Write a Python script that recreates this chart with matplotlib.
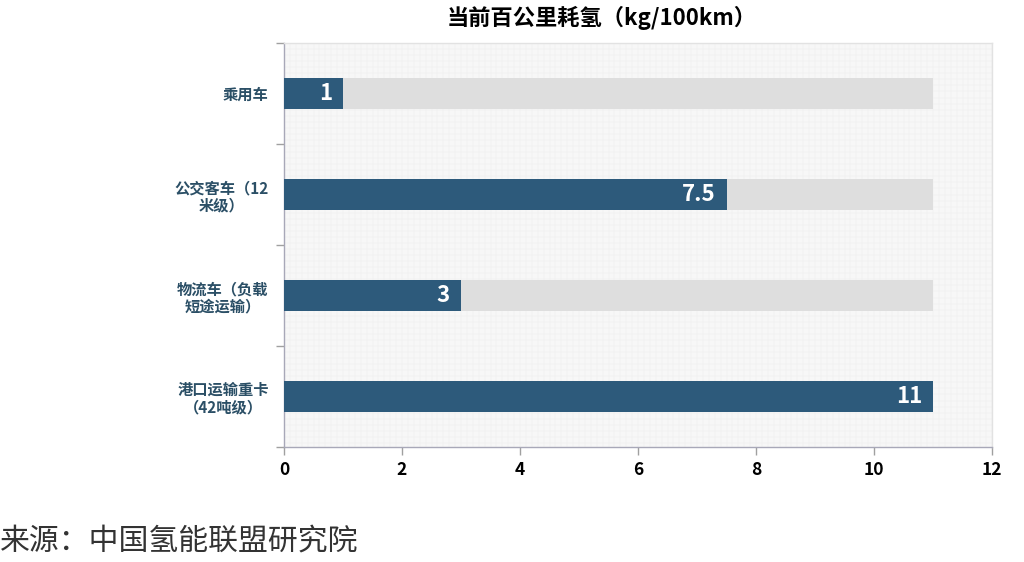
import matplotlib
matplotlib.use("Agg")
import matplotlib.pyplot as plt
import numpy as np

plt.rcParams['font.family'] = ['Noto Sans CJK SC', 'DejaVu Sans']

categories = ["乘用车", "公交客车（12\n米级）", "物流车（负载\n短途运输）", "港口运输重卡\n（42吨级）"]
values = [1, 7.5, 3, 11]
value_labels = ["1", "7.5", "3", "11"]
background_max = 11
xticks = [0, 2, 4, 6, 8, 10, 12]
title = "当前百公里耗氢（kg/100km）"
source = "来源：中国氢能联盟研究院"

bar_color = "#2d5a7b"
bg_color = "#dedede"
label_color = "#2b4f66"

fig = plt.figure(figsize=(10.24, 5.62), dpi=100)
ax = fig.add_axes([284/1024, 1-447/562, 708/1024, 404/562])
ax.set_facecolor("#f7f7f7")

y = np.arange(len(categories))
h = 0.31
ax.barh(y, [background_max]*len(categories), height=h, color=bg_color, zorder=2)
ax.barh(y, values, height=h, color=bar_color, zorder=3)

for yi, v, lab in zip(y, values, value_labels):
    ax.annotate(lab, xy=(v, yi), xytext=(-8, 0), textcoords="offset points",
                ha="right", va="center", color="white", fontsize=16,
                fontweight="bold", zorder=4)

ax.set_xlim(0, 12)
ax.set_ylim(3.5, -0.5)
ax.set_xticks(xticks)
ax.set_xticklabels([str(t) for t in xticks], fontsize=12.5, fontweight="bold", color="black")
ax.set_yticks(y)
ax.set_yticklabels(categories, fontsize=11, fontweight="bold", color=label_color,
                   multialignment="center", linespacing=1.1)
ax.tick_params(axis="y", length=0, pad=11)
ax.set_yticks(np.arange(-0.5, 4, 1), minor=True)
ax.tick_params(axis="y", which="minor", length=6, color="#a0a0a0", width=1)
ax.tick_params(axis="x", length=6, color="#a0a0a0", width=1, pad=4)

# faint mesh background
for xv in np.arange(0, 12.01, 0.1):
    ax.axvline(xv, color="#ededed", lw=0.35, zorder=1)
for yv in np.arange(-0.5, 3.51, 0.06):
    ax.axhline(yv, color="#ededed", lw=0.35, zorder=1)

for s in ["left", "bottom"]:
    ax.spines[s].set_color("#a8a8b8")
    ax.spines[s].set_linewidth(1)
for s in ["top", "right"]:
    ax.spines[s].set_color("#e2e2e2")
    ax.spines[s].set_linewidth(1)

fig.text(602/1024, 1-18/562, title, ha="center", va="center", fontsize=16,
         fontweight="bold", color="black")
fig.text(0.0, 1-541/562, source, ha="left", va="center", fontsize=21.5,
         color="#333333")

fig.savefig("out.png", dpi=100)
